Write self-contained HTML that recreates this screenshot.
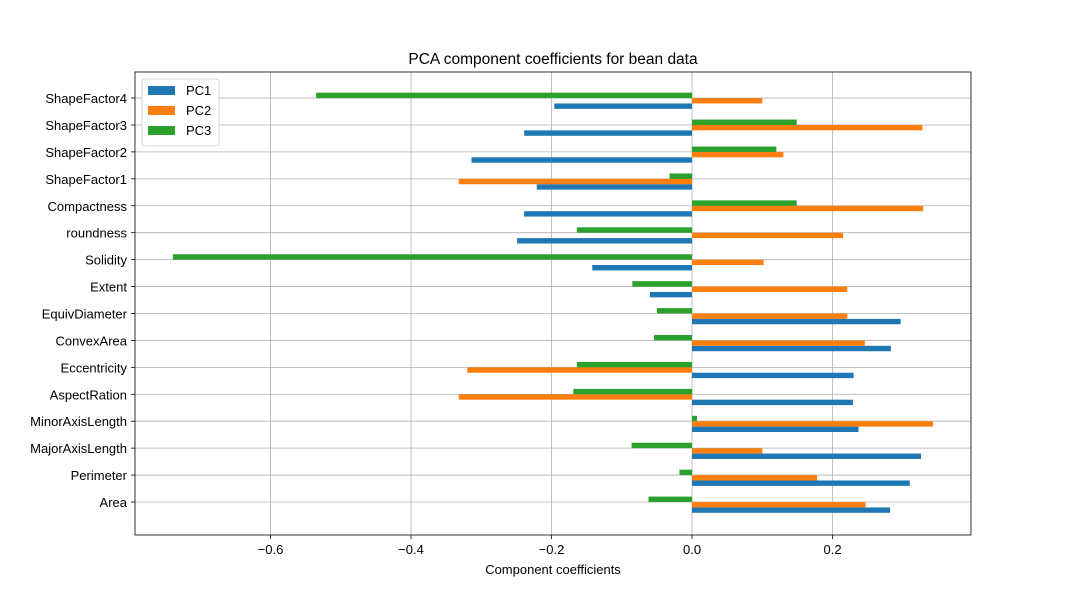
<!DOCTYPE html>
<html><head><meta charset="utf-8"><style>
body{margin:0;background:#fff;}
svg text{font-family:"Liberation Sans","DejaVu Sans",sans-serif;}
</style></head><body>
<svg id="chart" width="1079" height="600" xmlns="http://www.w3.org/2000/svg"></svg>
<script>
const categories=["Area","Perimeter","MajorAxisLength","MinorAxisLength","AspectRation","Eccentricity","ConvexArea","EquivDiameter","Extent","Solidity","roundness","Compactness","ShapeFactor1","ShapeFactor2","ShapeFactor3","ShapeFactor4"];
const pc1=[0.282,0.310,0.326,0.237,0.229,0.230,0.283,0.297,-0.060,-0.142,-0.249,-0.239,-0.221,-0.314,-0.239,-0.196];
const pc2=[0.247,0.178,0.100,0.343,-0.332,-0.320,0.246,0.221,0.221,0.102,0.215,0.329,-0.332,0.130,0.328,0.100];
const pc3=[-0.062,-0.018,-0.086,0.007,-0.169,-0.164,-0.054,-0.050,-0.085,-0.739,-0.164,0.149,-0.032,0.120,0.149,-0.535];
const xTicks=[-0.6,-0.4,-0.2,0.0,0.2];
const xTickLabels=["\u22120.6","\u22120.4","\u22120.2","0.0","0.2"];
const svg=document.getElementById('chart');
const NS="http://www.w3.org/2000/svg";
const L=135,R=971,T=72,B=535;
const xmin=-0.7929,xmax=0.3971;
const xs=v=>L+(v-xmin)/(xmax-xmin)*(R-L);
const ys=i=>502-i*26.93;
function mk(tag,attrs,name,text){const e=document.createElementNS(NS,tag);for(const k in attrs)e.setAttribute(k,attrs[k]);


if(text!==undefined)e.textContent=text;svg.appendChild(e);return e;}
mk('text',{x:553,y:64,'font-size':15.5,'text-anchor':'middle'},'chart-title','PCA component coefficients for bean data');
xTicks.forEach((t,i)=>{const x=xs(t);
mk('line',{x1:x,x2:x,y1:T,y2:B,stroke:'#b0b0b0','stroke-width':0.8},'x-grid-line');
mk('line',{x1:x,x2:x,y1:B,y2:B+4,stroke:'#000','stroke-width':0.8},'x-tick');
mk('text',{x:x,y:B+19,'font-size':13,'text-anchor':'middle'},'x-tick-label',xTickLabels[i]);});
categories.forEach((c,i)=>{const y=ys(i);
mk('line',{x1:L,x2:R,y1:y,y2:y,stroke:'#b0b0b0','stroke-width':0.8},'y-grid-line');
mk('line',{x1:L-4,x2:L,y1:y,y2:y,stroke:'#000','stroke-width':0.8},'y-tick');
mk('text',{x:L-8,y:y+5,'font-size':13,'text-anchor':'end'},'y-tick-label',c);});
const x0=xs(0),h=5.4;
const series=[[pc1,'#1f77b4',8.1],[pc2,'#ff7f0e',2.7],[pc3,'#2ca02c',-2.7]];
series.forEach(([vals,col,off],si)=>{vals.forEach((v,i)=>{const x=xs(v);
mk('rect',{x:Math.min(x,x0),y:ys(i)+off-h/2,width:Math.abs(x-x0),height:h,fill:col},'bar-pc'+(si+1));});});
mk('rect',{x:L,y:T,width:R-L,height:B-T,fill:'none',stroke:'#000','stroke-width':0.8},'plot-frame');
mk('text',{x:553,y:574,'font-size':13,'text-anchor':'middle'},'x-axis-title','Component coefficients');
mk('rect',{x:142,y:79,width:77,height:67,fill:'#fff',stroke:'#ccc','stroke-width':0.8,rx:3},'legend-box');
['PC1','PC2','PC3'].forEach((n,i)=>{const y=91+i*20;
mk('rect',{x:148,y:y-5,width:27,height:9,fill:series[i][1]},'legend-swatch');
mk('text',{x:186,y:y+4,'font-size':13},'legend-entry',n);});
</script>
</body></html>
